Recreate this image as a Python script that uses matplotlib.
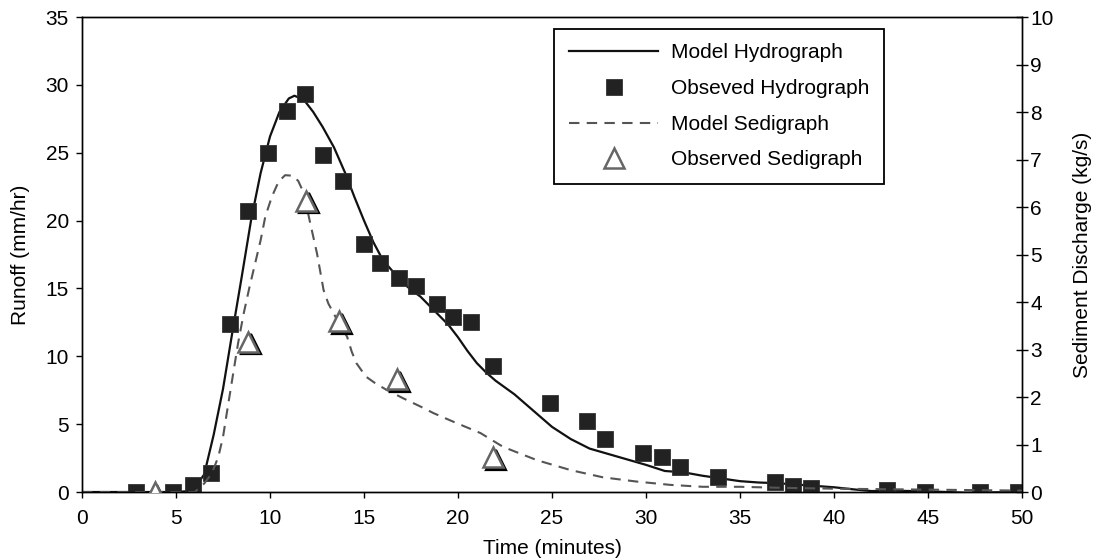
import matplotlib
matplotlib.use('Agg')
import matplotlib.pyplot as plt
from matplotlib.lines import Line2D
from matplotlib.transforms import offset_copy

plt.rcParams['font.family'] = ['Liberation Sans', 'DejaVu Sans']
plt.rcParams['font.size'] = 15

# model hydrograph (runoff, mm/hr)
t_model_q = [0, 5.0, 5.5, 6.0, 6.5, 7.0, 7.5, 8.0, 8.5, 9.0, 9.5, 10.0, 10.5, 11.0, 11.3,
             11.8, 12.3, 12.8, 13.4, 14.0, 14.5, 15.0, 15.5, 16.0, 16.5, 17.0, 17.5, 18.0,
             18.5, 19.0, 19.5, 20.0, 20.5, 21.0, 21.5, 22.0, 23.0, 24.0, 25.0, 26.0, 27.0,
             28.0, 29.0, 30.0, 31.0, 32.0, 33.0, 34.0, 35.0, 36.0, 37.0, 38.0, 39.0, 40.0,
             41.0, 42.0, 43.0, 45.0, 47.0, 50.0]
q_model = [0, 0, 0.05, 0.3, 1.3, 4.2, 7.6, 11.8, 15.9, 20.1, 23.5, 26.2, 28.0, 29.0, 29.2,
           28.9, 28.0, 26.9, 25.4, 23.5, 21.7, 20.0, 18.4, 17.1, 16.3, 15.5, 14.9, 14.4,
           13.7, 13.0, 12.3, 11.4, 10.4, 9.5, 8.8, 8.2, 7.2, 6.0, 4.8, 3.9, 3.2,
           2.8, 2.4, 2.0, 1.55, 1.45, 1.2, 1.0, 0.8, 0.7, 0.65, 0.55, 0.45, 0.35,
           0.2, 0.07, 0.1, 0.05, -0.05, 0.0]

# observed hydrograph
t_obs_q = [2.87, 4.86, 5.92, 6.84, 7.85, 8.83, 9.9, 10.88, 11.86, 12.84, 13.9, 15.0, 15.85,
           16.88, 17.77, 18.87, 19.75, 20.7, 21.88, 24.89, 26.84, 27.82, 29.86, 30.83,
           31.81, 33.85, 36.86, 37.84, 38.8, 42.8, 44.84, 47.77, 49.8]
q_obs = [0.0, 0.0, 0.5, 1.4, 12.4, 20.7, 25.0, 28.1, 29.3, 24.8, 22.9, 18.3, 16.9,
         15.8, 15.2, 13.85, 12.9, 12.55, 9.3, 6.58, 5.26, 3.9, 2.85, 2.55,
         1.82, 1.08, 0.76, 0.44, 0.32, 0.15, 0.02, 0.0, 0.0]

# model sedigraph (kg/s)
t_model_s = [0, 6.0, 6.5, 6.9, 7.25, 7.5, 7.7, 7.9, 8.1, 8.3, 8.6, 8.9, 9.2, 9.5, 9.75,
             10.1, 10.45, 10.8, 11.2, 11.5, 11.8, 12.1, 12.5, 12.85, 13.1, 13.6, 14.1,
             14.35, 14.6, 15.1, 15.6, 16.2, 17.1, 18.0, 18.7, 19.75, 21.2, 22.4, 24.2,
             26.0, 27.7, 29.5, 31.3, 33.0, 35.0, 37.0, 40.0, 45.0, 50.0]
s_model = [0, 0.0, 0.18, 0.39, 0.74, 1.16, 1.66, 2.15, 2.64, 3.13, 3.76, 4.3, 4.8, 5.3, 5.8,
           6.22, 6.53, 6.67, 6.66, 6.55, 6.29, 5.73, 5.02, 4.25, 3.97, 3.6, 3.27,
           2.95, 2.71, 2.43, 2.29, 2.15, 1.97, 1.8, 1.66, 1.48, 1.24, 0.95, 0.67,
           0.46, 0.31, 0.22, 0.15, 0.11, 0.11, 0.09, 0.07, 0.05, 0.03]

# observed sedigraph
t_obs_s = [3.88, 8.85, 11.94, 13.69, 16.77, 21.88]
s_obs = [0.0, 3.16, 6.13, 3.59, 2.37, 0.73]

fig = plt.figure(figsize=(10.98, 5.6), dpi=100)
ax = fig.add_subplot(111)
fig.subplots_adjust(left=0.0747, right=0.9308, top=0.9696, bottom=0.1214)
ax2 = ax.twinx()

ax.plot(t_model_q, q_model, color='#111111', lw=1.6, zorder=2)
ax.plot(t_obs_q, q_obs, ls='none', marker='s', ms=11.5, mfc='#222222', mec='#333333',
        mew=0.6, zorder=3)

ax2.plot(t_model_s, s_model, color='#555555', lw=1.5, dashes=(5, 3.5), zorder=2)
# shadowed triangles
shadow = offset_copy(ax2.transData, fig=fig, x=2.5, y=-2.5, units='dots')
ax2.plot(t_obs_s, s_obs, ls='none', marker='^', ms=15, mfc='black', mec='black',
         mew=1.6, transform=shadow, zorder=3)
ax2.plot(t_obs_s, s_obs, ls='none', marker='^', ms=15, mfc='white', mec='#666666',
         mew=1.8, zorder=4)

ax.set_xlim(0, 50)
ax.set_ylim(0, 35)
ax2.set_ylim(0, 10)
ax.set_xticks(range(0, 51, 5))
ax.set_yticks(range(0, 36, 5))
ax2.set_yticks(range(0, 11, 1))

ax.tick_params(axis='both', direction='out', length=4.5, width=1, colors='black')
ax.tick_params(axis='x', pad=7.5)
ax.tick_params(axis='y', pad=5)
ax2.tick_params(axis='y', direction='inout', length=9, width=1, pad=1.5)
for a in (ax, ax2):
    for sp in a.spines.values():
        sp.set_linewidth(1.0)
        sp.set_color('black')

ax.set_xlabel('Time (minutes)', labelpad=8)
ax.set_ylabel('Runoff (mm/hr)', labelpad=11)
ax2.set_ylabel('Sediment Discharge (kg/s)', labelpad=14)

handles = [
    Line2D([], [], color='#111111', lw=1.6),
    Line2D([], [], ls='none', marker='s', ms=11.5, mfc='#222222', mec='#333333', mew=0.6),
    Line2D([], [], color='#555555', lw=1.5, dashes=(5, 3.5)),
    Line2D([], [], ls='none', marker='^', ms=15, mfc='white', mec='#666666', mew=1.8),
]
labels = ['Model Hydrograph', 'Obseved Hydrograph', 'Model Sedigraph', 'Observed Sedigraph']
leg = ax2.legend(handles, labels, loc='upper right', bbox_to_anchor=(0.853, 0.975),
                 borderaxespad=0, frameon=True, fancybox=False, framealpha=1,
                 edgecolor='black', handlelength=4.3, handletextpad=0.6,
                 labelspacing=0.8, borderpad=0.7)
leg.get_frame().set_linewidth(1.3)

plt.savefig('out.png', dpi=100)
